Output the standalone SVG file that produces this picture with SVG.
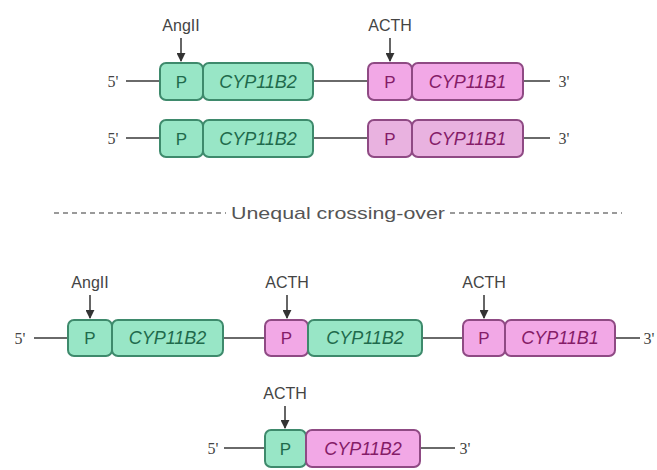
<svg xmlns="http://www.w3.org/2000/svg" width="657" height="470" viewBox="0 0 657 470">
<defs>
<style>
.g{fill:#98e6c6;stroke:#3e8a6c;stroke-width:2}
.p{fill:#f2a8e6;stroke:#8f4a84;stroke-width:2}
.gt{fill:#1f6a4c;font-family:"Liberation Sans",Arial,sans-serif;font-size:18px;font-style:italic;text-anchor:middle}
.pt{fill:#851c68;font-family:"Liberation Sans",Arial,sans-serif;font-size:18px;font-style:italic;text-anchor:middle}
.pl{font-family:"Liberation Sans",Arial,sans-serif;font-size:17px;text-anchor:middle}
.lab{fill:#444;font-family:"Liberation Sans",Arial,sans-serif;font-size:16px;text-anchor:middle}
.end{fill:#444;font-family:"Liberation Serif","Times New Roman",serif;font-size:16px;text-anchor:middle}
.ln{stroke:#6a6a6a;stroke-width:2;fill:none}
.ar{stroke:#333;stroke-width:1.5;fill:none;marker-end:url(#ah)}
</style>
<marker id="ah" viewBox="0 0 10 10" refX="9" refY="5" markerWidth="6" markerHeight="6" orient="auto"><path d="M0,0 L10,5 L0,10 z" fill="#333"/></marker>
</defs>
<rect width="657" height="470" fill="#fff"/>

<g id="connectors">
<line class="ln" x1="126" y1="81" x2="160" y2="81"/>
<line class="ln" x1="313" y1="81" x2="368" y2="81"/>
<line class="ln" x1="523" y1="81" x2="550" y2="81"/>
<line class="ln" x1="126" y1="138" x2="160" y2="138"/>
<line class="ln" x1="313" y1="138" x2="368" y2="138"/>
<line class="ln" x1="523" y1="138" x2="550" y2="138"/>
<line class="ln" x1="34" y1="338" x2="68" y2="338"/>
<line class="ln" x1="223" y1="338" x2="265" y2="338"/>
<line class="ln" x1="422" y1="338" x2="463" y2="338"/>
<line class="ln" x1="615" y1="338" x2="640" y2="338"/>
<line class="ln" x1="224" y1="448" x2="265" y2="448"/>
<line class="ln" x1="420" y1="448" x2="455" y2="448"/>
<line class="ar" x1="181" y1="38" x2="181" y2="61"/>
<line class="ar" x1="390" y1="38" x2="390" y2="61"/>
<line class="ar" x1="90" y1="295" x2="90" y2="318"/>
<line class="ar" x1="287" y1="295" x2="287" y2="318"/>
<line class="ar" x1="484" y1="295" x2="484" y2="318"/>
<line class="ar" x1="285" y1="406" x2="285" y2="428"/>
</g>

<g id="labels">
<text class="lab" x="181" y="31">AngII</text>
<text class="lab" x="390" y="31">ACTH</text>
<text class="lab" x="90" y="288">AngII</text>
<text class="lab" x="287" y="288">ACTH</text>
<text class="lab" x="484" y="288">ACTH</text>
<text class="lab" x="285" y="399">ACTH</text>
<text class="end" x="113" y="87">5'</text>
<text class="end" x="564" y="87">3'</text>
<text class="end" x="113" y="144">5'</text>
<text class="end" x="564" y="144">3'</text>
<text class="end" x="20" y="344">5'</text>
<text class="end" x="649" y="344">3'</text>
<text class="end" x="213" y="454">5'</text>
<text class="end" x="465" y="454">3'</text>
</g>

<g id="divider">
<line x1="54" y1="213" x2="226" y2="213" stroke="#9a9a9a" stroke-width="2" stroke-dasharray="5 4"/>
<line x1="450" y1="213" x2="622" y2="213" stroke="#9a9a9a" stroke-width="2" stroke-dasharray="5 4"/>
<text x="338" y="219" fill="#555" font-family="Liberation Sans, Arial, sans-serif" font-size="17" text-anchor="middle" textLength="214" lengthAdjust="spacingAndGlyphs">Unequal crossing-over</text>
</g>

<g id="r1-p1"><rect class="g" x="160" y="63" width="43" height="37" rx="6"/><text class="pl" fill="#1f6a4c" x="181.5" y="88">P</text></g>
<g id="r1-cyp11b2"><rect class="g" x="203" y="63" width="110" height="37" rx="6"/><text class="gt" x="258" y="88">CYP11B2</text></g>
<g id="r1-p2"><rect class="p" x="368" y="63" width="44" height="37" rx="6"/><text class="pl" fill="#851c68" x="390" y="88">P</text></g>
<g id="r1-cyp11b1"><rect class="p" x="412" y="63" width="111" height="37" rx="6"/><text class="pt" x="467.5" y="88">CYP11B1</text></g>

<g id="r2-p1"><rect class="g" x="160" y="120" width="43" height="37" rx="6"/><text class="pl" fill="#1f6a4c" x="181.5" y="145">P</text></g>
<g id="r2-cyp11b2"><rect class="g" x="203" y="120" width="110" height="37" rx="6"/><text class="gt" x="258" y="145">CYP11B2</text></g>
<g id="r2-p2"><rect class="p" x="368" y="120" width="44" height="37" rx="6" style="fill:#e9b2e0"/><text class="pl" fill="#851c68" x="390" y="145">P</text></g>
<g id="r2-cyp11b1"><rect class="p" x="412" y="120" width="111" height="37" rx="6" style="fill:#e9b2e0"/><text class="pt" x="467.5" y="145">CYP11B1</text></g>

<g id="r3-p1"><rect class="g" x="68" y="320" width="44" height="36" rx="6"/><text class="pl" fill="#1f6a4c" x="90" y="344">P</text></g>
<g id="r3-cyp11b2"><rect class="g" x="112" y="320" width="111" height="36" rx="6"/><text class="gt" x="167.5" y="344">CYP11B2</text></g>
<g id="r3-p2"><rect class="p" x="265" y="320" width="43" height="36" rx="6"/><text class="pl" fill="#851c68" x="286.5" y="344">P</text></g>
<g id="r3-cyp11b2b"><rect class="g" x="308" y="320" width="114" height="36" rx="6"/><text class="gt" x="365" y="344">CYP11B2</text></g>
<g id="r3-p3"><rect class="p" x="463" y="320" width="42" height="36" rx="6"/><text class="pl" fill="#851c68" x="484" y="344">P</text></g>
<g id="r3-cyp11b1"><rect class="p" x="505" y="320" width="110" height="36" rx="6"/><text class="pt" x="560" y="344">CYP11B1</text></g>

<g id="r4-p"><rect class="g" x="265" y="430" width="41" height="37" rx="6"/><text class="pl" fill="#1f6a4c" x="285.5" y="455">P</text></g>
<g id="r4-cyp11b2"><rect class="p" x="306" y="430" width="114" height="37" rx="6"/><text class="pt" x="363" y="455">CYP11B2</text></g>
</svg>
